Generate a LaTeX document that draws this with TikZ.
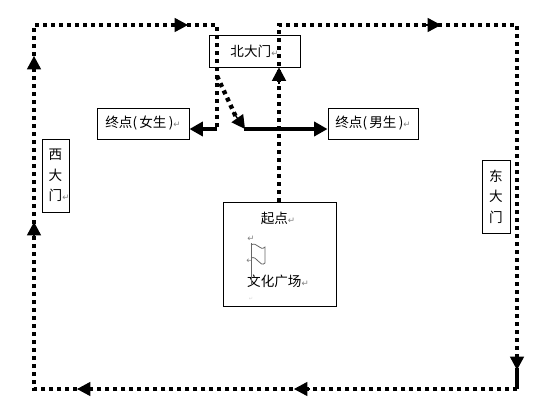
\documentclass[tikz,border=0pt]{standalone}
\usepackage{fontspec}
\setmainfont{Noto Sans CJK SC}
\newfontfamily\markfont{DejaVu Sans}
\usetikzlibrary{positioning, arrows.meta}
\newcommand{\retmark}{{\markfont\fontsize{6.5pt}{7pt}\selectfont\textcolor{gray}{↵}}}
\tikzset{
    gatebox/.style={draw, line width=0.7pt, inner sep=0pt, align=center, font=\fontsize{10.2pt}{15.5pt}\selectfont},
    dotline/.style={line width=3.3pt, dash pattern=on 3pt off 3pt},
    solidline/.style={line width=3.3pt},
    tip/.style={-{Triangle[length=10pt,width=10.5pt]}},
    plaintext/.style={inner sep=0pt, font=\fontsize{10.2pt}{12pt}\selectfont},
}
\begin{document}
\begin{tikzpicture}[x=0.75pt, y=-0.75pt]
    \useasboundingbox (0,0) rectangle (550,408);
    \node[gatebox, minimum width=68.25pt, minimum height=24pt] (north) at (254.5,51) {北大门\retmark};
    \node[gatebox, minimum width=69pt, minimum height=23.25pt] (girls) at (143,123.5) {终点(\,女生\,)\retmark};
    \node[gatebox, minimum width=67.5pt, minimum height=23.25pt] (boys) at (373,123.5) {终点(\,男生\,)\retmark};
    \node[gatebox, minimum width=84.75pt, minimum height=78pt] (start) at (279.5,254) {};
    \node[gatebox, minimum width=21pt, minimum height=54.75pt] (east) at (496,196.5) {东\\大\\门};
    \node[gatebox, minimum width=20.25pt, minimum height=54.75pt] (west) at (55.5,175.5) {西\\大\\门\rlap{\retmark}};

    \node[plaintext] (starttext) at (278,218) {起点\retmark};
    \node[plaintext] (squaretext) at (278,281) {文化广场\retmark};
    \node[inner sep=0pt] (markone) at (251,239) {\retmark};
    \node[inner sep=0pt] (marktwo) at (250,261) {\retmark};
    \node[inner sep=0pt, opacity=0.3, scale=0.6] (markthree) at (251,299) {\retmark};
    \draw[gray!80!black, line width=0.6pt] (251,243) -- (251,285);
    \draw[gray!80!black, line width=0.6pt] (251,245) .. controls (257,241) and (260,252) .. (265,247) -- (265,263) .. controls (260,268) and (257,255) .. (251,258);

    \coordinate (topleft) at (34,25);
    \coordinate (topmid) at (217,25);
    \coordinate (topgap) at (279,25);
    \coordinate (topright) at (517,25);
    \coordinate (bottomright) at (517,389);
    \coordinate (bottomleft) at (34,389);
    \coordinate (split) at (217,129);
    \coordinate (fork) at (217,76);
    \coordinate (cross) at (244,129);

    \draw[dotline] (start.north -| topgap) -- (topgap) -- (topright) -- (517,362);
    \draw[tip, line width=1pt] (279,84) -- (north.south -| topgap);
    \draw[tip, line width=1pt] (425,25) -- (441,25);
    \draw[tip, line width=1pt] (517,354) -- (517,370);
    \draw[solidline] (517,368) -- (bottomright);
    \draw[dotline] (bottomright) -- (bottomleft) -- (topleft) -- (topmid) -- (split);
    \draw[tip, line width=1pt] (310,389) -- (294,389);
    \draw[tip, line width=1pt] (93,389) -- (77,389);
    \draw[tip, line width=1pt] (34,238) -- (34,222);
    \draw[tip, line width=1pt] (34,72) -- (34,56);
    \draw[tip, line width=1pt] (172,25) -- (188,25);
    \draw[tip, solidline] (split) -- (girls.east |- split);
    \draw[dotline] (fork) -- (236,117);
    \draw[tip, line width=1pt] (233,112) -- (245,129);
    \draw[tip, solidline] (cross) -- (boys.west |- cross);
\end{tikzpicture}
\end{document}
